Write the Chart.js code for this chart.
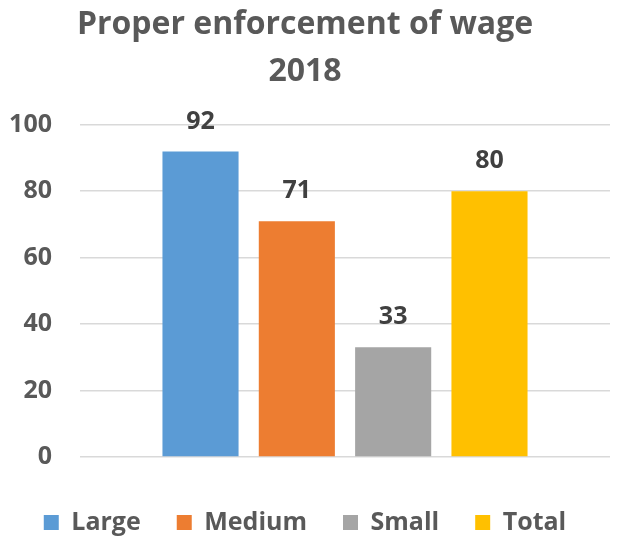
<!DOCTYPE html>
<html>
<head>
<meta charset="utf-8">
<script src="https://cdn.jsdelivr.net/npm/chart.js@4.4.0/dist/chart.umd.min.js"></script>
<style>
    html, body { margin: 0; padding: 0; background: #fff; }
    #wrap { width: 626px; height: 539px; }
</style>
</head>
<body>
<div id="wrap"><canvas id="wageChart" width="626" height="539"></canvas></div>
<script>
const categories = ['2018'];
const seriesNames = ['Large', 'Medium', 'Small', 'Total'];
const seriesValues = [[92], [71], [33], [80]];
const seriesColors = ['#5B9BD5', '#ED7D31', '#A5A5A5', '#FFC000'];
const yTicks = [0, 20, 40, 60, 80, 100];

const FONT = "'Open Sans', 'DejaVu Sans', sans-serif";

// draws the value above every bar
const valueLabels = {
    id: 'valueLabels',
    afterDatasetsDraw(chart) {
        const ctx = chart.ctx;
        ctx.save();
        ctx.font = `bold 25px ${FONT}`;
        ctx.fillStyle = '#404040';
        ctx.textAlign = 'center';
        ctx.textBaseline = 'middle';
        chart.data.datasets.forEach((ds, i) => {
            chart.getDatasetMeta(i).data.forEach((bar, j) => {
                ctx.fillText(ds.data[j], bar.x, bar.y - 30);
            });
        });
        ctx.restore();
    }
};

const ctx = document.getElementById('wageChart').getContext('2d');
new Chart(ctx, {
    type: 'bar',
    data: {
        labels: categories,
        datasets: seriesNames.map((name, i) => ({
            label: name,
            data: seriesValues[i],
            backgroundColor: seriesColors[i],
            borderWidth: 0,
            barPercentage: 0.79,
            categoryPercentage: 0.727
        }))
    },
    options: {
        responsive: false,
        animation: false,
        layout: { padding: { left: 0, right: 16, top: 2, bottom: -6 } },
        plugins: {
            title: {
                display: true,
                text: ['Proper enforcement of wage', '2018'],
                color: '#595959',
                font: { family: FONT, size: 32, weight: 'bold', lineHeight: 1.45 },
                padding: { top: 0, bottom: 30 }
            },
            legend: {
                position: 'bottom',
                labels: {
                    color: '#595959',
                    font: { family: FONT, size: 25, weight: 'bold' },
                    boxWidth: 15,
                    boxHeight: 15,
                    padding: 36
                }
            },
            tooltip: { enabled: false }
        },
        scales: {
            x: {
                grid: { display: false },
                border: { display: false },
                ticks: { display: false },
                afterFit: axis => {
                    axis.height = 17;
                }
            },
            y: {
                min: 0,
                max: 100,
                afterBuildTicks: axis => {
                    axis.ticks = yTicks.map(v => ({ value: v }));
                },
                afterFit: axis => {
                    axis.width = 80;
                },
                grid: { color: '#D9D9D9', lineWidth: 1.5, drawTicks: false },
                border: { display: false },
                ticks: {
                    color: '#595959',
                    font: { family: FONT, size: 25, weight: 'bold' },
                    padding: 28
                }
            }
        }
    },
    plugins: [valueLabels]
});
</script>
</body>
</html>
